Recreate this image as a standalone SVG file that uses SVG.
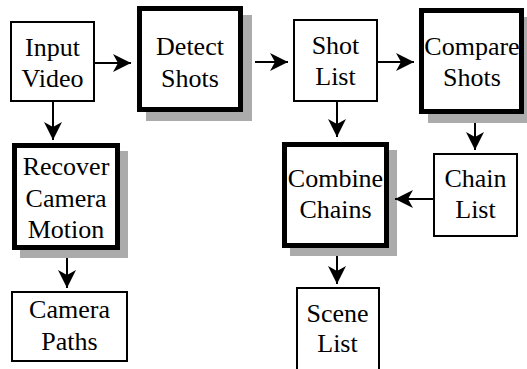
<svg xmlns="http://www.w3.org/2000/svg" width="527" height="369" viewBox="0 0 527 369">
<defs>
<style>
.thin{fill:#fff;stroke:#000;stroke-width:2}
.thick{fill:#fff;stroke:#000;stroke-width:5}
.shadow{fill:#ababab;stroke:none}
.conn line{stroke:#000;stroke-width:2;marker-end:url(#ah)}
svg text, g text, text.t{font-family:'Liberation Serif',serif !important;font-size:26px;text-anchor:middle;fill:#000}
</style>
<marker id="ah" viewBox="0 0 18 18" refX="18" refY="9" markerWidth="18" markerHeight="18" markerUnits="userSpaceOnUse" orient="auto">
<path d="M0,0 L18,9 L0,18 L5,9 Z" fill="#000"/>
</marker>
</defs>
<rect width="527" height="369" fill="#fff"/>
<g id="input-video">
<rect class="thin" x="11" y="22" width="83" height="79"/>
<text class="t" style="font-family:'Liberation Serif',serif" x="52.5" y="56">Input</text>
<text class="t" style="font-family:'Liberation Serif',serif" x="52.5" y="87">Video</text>
</g>
<g id="detect-shots">
<rect class="shadow" x="146" y="15" width="106" height="106"/>
<rect class="thick" x="139.5" y="8.5" width="101" height="101"/>
<text class="t" style="font-family:'Liberation Serif',serif" x="190" y="55">Detect</text>
<text class="t" style="font-family:'Liberation Serif',serif" x="190" y="87">Shots</text>
</g>
<g id="shot-list">
<rect class="thin" x="294" y="20" width="83" height="81"/>
<text class="t" style="font-family:'Liberation Serif',serif" x="335.5" y="54">Shot</text>
<text class="t" style="font-family:'Liberation Serif',serif" x="335.5" y="85">List</text>
</g>
<g id="compare-shots">
<rect class="shadow" x="428" y="17" width="105" height="106"/>
<rect class="thick" x="421.5" y="10.5" width="100" height="101"/>
<text class="t" style="font-family:'Liberation Serif',serif" x="472" y="55">Compare</text>
<text class="t" style="font-family:'Liberation Serif',serif" x="472" y="86">Shots</text>
</g>
<g id="recover-camera-motion">
<rect class="shadow" x="20" y="151" width="108" height="107"/>
<rect class="thick" x="14.5" y="145.5" width="103" height="102"/>
<text class="t" style="font-family:'Liberation Serif',serif" x="66" y="175">Recover</text>
<text class="t" style="font-family:'Liberation Serif',serif" x="66" y="207">Camera</text>
<text class="t" style="font-family:'Liberation Serif',serif" x="66" y="238">Motion</text>
</g>
<g id="camera-paths">
<rect class="thin" x="12" y="292" width="115" height="69"/>
<text class="t" style="font-family:'Liberation Serif',serif" x="69.5" y="318">Camera</text>
<text class="t" style="font-family:'Liberation Serif',serif" x="69.5" y="350">Paths</text>
</g>
<g id="combine-chains">
<rect class="shadow" x="290" y="150" width="107" height="106"/>
<rect class="thick" x="284.5" y="144.5" width="102" height="101"/>
<text class="t" style="font-family:'Liberation Serif',serif" x="335.5" y="187">Combine</text>
<text class="t" style="font-family:'Liberation Serif',serif" x="335.5" y="218">Chains</text>
</g>
<g id="chain-list">
<rect class="thin" x="434" y="154" width="83" height="82"/>
<text class="t" style="font-family:'Liberation Serif',serif" x="475.5" y="187">Chain</text>
<text class="t" style="font-family:'Liberation Serif',serif" x="475.5" y="218">List</text>
</g>
<g id="scene-list">
<rect class="thin" x="297" y="288" width="82" height="100"/>
<text class="t" style="font-family:'Liberation Serif',serif" x="337.5" y="322">Scene</text>
<text class="t" style="font-family:'Liberation Serif',serif" x="337.5" y="352">List</text>
</g>
<g class="conn" id="connectors">
<line x1="95" y1="63" x2="131" y2="63"/>
<line x1="255" y1="62" x2="288" y2="62"/>
<line x1="378" y1="62" x2="414" y2="62"/>
<line x1="53" y1="102" x2="53" y2="140"/>
<line x1="67" y1="258" x2="67" y2="288"/>
<line x1="337" y1="102" x2="337" y2="137"/>
<line x1="475" y1="123" x2="475" y2="150"/>
<line x1="433" y1="199" x2="395" y2="199"/>
<line x1="337" y1="256" x2="337" y2="284"/>
</g>
</svg>
